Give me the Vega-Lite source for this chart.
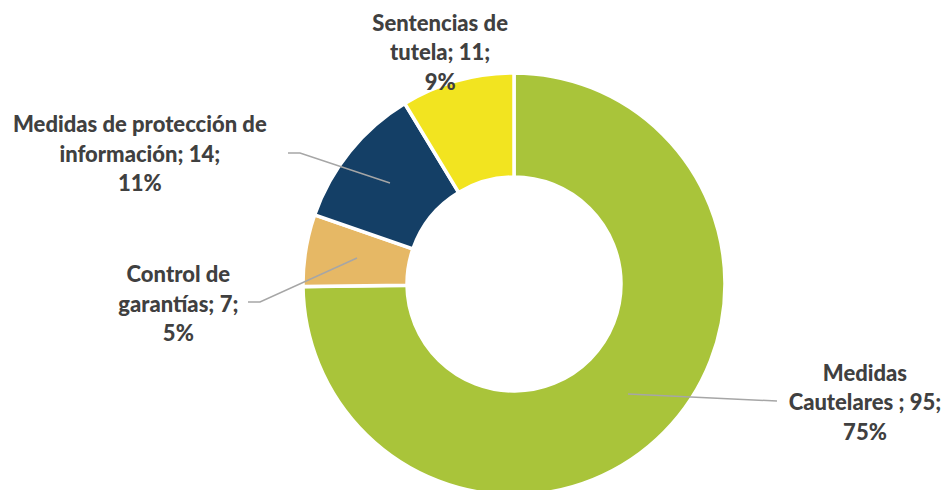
{
  "$schema": "https://vega.github.io/schema/vega-lite/v6.json",
  "width": 860,
  "height": 412,
  "autosize": {"type": "none"},
  "padding": {"left": 84, "top": 78, "right": 1, "bottom": 0},
  "background": "white",
  "config": {"view": {"stroke": null}},
  "datasets": {
    "pie": [
      {"categoria": "Medidas Cautelares", "valor": 95, "orden": 1, "etiqueta": "Medidas\nCautelares ; 95;\n75%"},
      {"categoria": "Control de garantías", "valor": 7, "orden": 2, "etiqueta": "Control de\ngarantías; 7;\n5%"},
      {"categoria": "Medidas de protección de información", "valor": 14, "orden": 3, "etiqueta": "Medidas de protección de\ninformación; 14;\n11%"},
      {"categoria": "Sentencias de tutela", "valor": 11, "orden": 4, "etiqueta": "Sentencias de\ntutela; 11;\n9%"}
    ],
    "guias": [
      {"categoria": "Medidas Cautelares", "paso": 1, "gx": 1.14, "gy": -1.10},
      {"categoria": "Medidas Cautelares", "paso": 2, "gx": 2.63, "gy": -1.17},
      {"categoria": "Control de garantías", "paso": 1, "gx": -1.57, "gy": 0.26},
      {"categoria": "Control de garantías", "paso": 2, "gx": -2.54, "gy": -0.18},
      {"categoria": "Control de garantías", "paso": 3, "gx": -2.66, "gy": -0.18},
      {"categoria": "Medidas de protección de información", "paso": 1, "gx": -1.24, "gy": 1.01},
      {"categoria": "Medidas de protección de información", "paso": 2, "gx": -2.14, "gy": 1.31},
      {"categoria": "Medidas de protección de información", "paso": 3, "gx": -2.26, "gy": 1.31}
    ]
  },
  "layer": [
    {
      "data": {"name": "pie"},
      "mark": {"type": "arc", "outerRadius": 211, "innerRadius": 107, "stroke": "white", "strokeWidth": 3.5},
      "encoding": {
        "theta": {"field": "valor", "type": "quantitative", "stack": true},
        "order": {"field": "orden", "type": "quantitative"},
        "color": {
          "field": "categoria",
          "type": "nominal",
          "scale": {
            "domain": ["Medidas Cautelares", "Control de garantías", "Medidas de protección de información", "Sentencias de tutela"],
            "range": ["#A9C43A", "#E6B865", "#143F66", "#F2E420"]
          },
          "legend": null
        }
      }
    },
    {
      "data": {"name": "guias"},
      "mark": {"type": "line", "color": "#A6A6A6", "strokeWidth": 1.5},
      "encoding": {
        "x": {"field": "gx", "type": "quantitative", "scale": {"domain": [-4.3, 4.3]}, "axis": null},
        "y": {"field": "gy", "type": "quantitative", "scale": {"domain": [-2.06, 2.06]}, "axis": null},
        "detail": {"field": "categoria"},
        "order": {"field": "paso", "type": "quantitative"}
      }
    },
    {
      "data": {"name": "pie"},
      "mark": {
        "type": "text",
        "radius": 260,
        "font": "Lato",
        "fontWeight": 900,
        "fontSize": 22,
        "color": "#404040",
        "lineBreak": "\n",
        "lineHeight": 29.5,
        "align": "center",
        "baseline": "middle",
        "dx": {"expr": "datum.categoria === 'Medidas Cautelares' ? 166 : datum.categoria === 'Control de garantías' ? -79 : datum.categoria === 'Sentencias de tutela' ? -4 : -172"},
        "dy": {"expr": "datum.categoria === 'Medidas Cautelares' ? -93 : datum.categoria === 'Control de garantías' ? 33 : datum.categoria === 'Sentencias de tutela' ? -10 : 5"}
      },
      "encoding": {
        "theta": {"field": "valor", "type": "quantitative", "stack": true},
        "order": {"field": "orden", "type": "quantitative"},
        "text": {"field": "etiqueta"}
      }
    }
  ]
}
